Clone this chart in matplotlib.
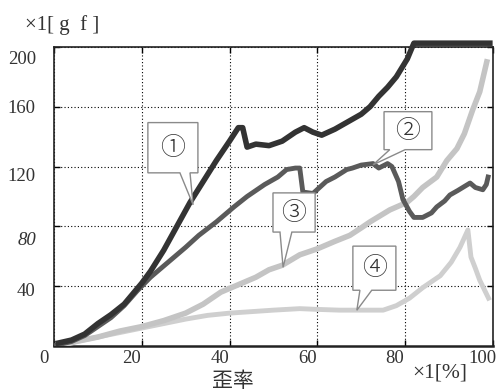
import numpy as np
import matplotlib
matplotlib.use("Agg")
import matplotlib.pyplot as plt
from matplotlib.patches import Polygon
from matplotlib.transforms import ScaledTranslation

# 歪率 [%] と荷重 [gf]
x1 = [1, 4, 7, 10, 13, 16, 18, 20, 22, 25, 28, 31, 34, 37, 40, 42, 43, 44, 46, 49, 52,
      55, 57, 59, 61, 64, 67, 70, 72, 74, 76, 78, 80.5, 82, 90, 99.3]
y1 = [2, 4, 8, 15, 21, 28, 35, 42, 50, 64, 80, 96, 110, 124, 137, 146, 146, 133, 135, 134, 137,
      143, 146, 143, 141, 145, 150, 155, 160, 167, 173, 180, 192, 202.5, 202.5, 202.5]

x2 = [0.5, 4, 7, 10, 13, 16, 19, 22, 26, 30, 33, 37, 41, 44, 48, 51, 53, 55, 56, 56.7, 59,
      62, 64, 66.7, 68, 70, 72.7, 74, 76, 77, 78.5, 79.5, 81, 82, 84, 86, 87.2, 89, 90.2,
      92, 94.8, 96, 97.7, 98.5, 98.9]
y2 = [0.5, 3, 7, 13, 19, 27, 37, 46, 56, 66, 74, 83, 93, 100, 108, 113, 118, 119, 119, 103, 102,
      110, 113, 118, 119, 121, 122, 119, 122, 120, 110, 98, 90, 86, 86, 89, 93, 97, 101,
      104, 109, 106, 104.5, 108, 113]

x3 = [1.4, 5, 10, 15, 20, 25, 30, 34, 38, 42, 46, 49, 52, 56, 60, 64, 67.4, 70, 72, 76.5,
      80.4, 82, 84, 87.2, 89.5, 91.8, 93.5, 95.4, 97, 98.6]
y3 = [0, 3, 6, 10, 13, 17, 22, 28, 36, 41, 46, 51, 54, 61, 65, 70, 74, 79, 83, 91,
      96, 100, 106, 113, 124, 132, 142, 158, 170, 190]

x4 = [0.5, 5, 10, 15, 20, 25, 30, 35, 40, 45, 50, 56, 60, 65, 70, 75, 78, 81, 84, 88,
      90.5, 92.5, 94.3, 95, 96, 97, 99]
y4 = [0, 3, 6, 9, 12, 15, 18, 20.5, 22, 23, 24, 25, 24.5, 24, 24, 24, 27, 32, 39, 47,
      56, 66, 77.6, 59.5, 52, 44, 32]

labels = ["①", "②", "③", "④"]
# 吹き出し: (左, 右, 下, 上), 付け根 (x0, x1), 先端 (x, y)
boxes = [(21.4, 32.8, 115.8, 149.4), (75.2, 86.1, 131.3, 156.7),
         (49.9, 59.5, 76.2, 102.4), (68.1, 77.9, 37.3, 66.8)]
bases = [(28.7, 31.0), (76.5, 80.0), (51.5, 54.2), (69.7, 72.4)]
tips = [(31.7, 94.4), (72.7, 121.2), (52.2, 52.7), (69.0, 23.9)]

xticks = [0, 20, 40, 60, 80, 100]
yticks = [40, 80, 120, 160, 200]

fig = plt.figure(figsize=(5.04, 3.91), dpi=100)
ax = fig.add_axes([0.107, 0.115, 0.871, 0.765])

ax.plot(x4, y4, color="#cfcfcf", lw=3.5, zorder=2)
ax.plot(x3, y3, color="#c4c4c4", lw=4, zorder=3)
ax.plot(x2, y2, color="#5a5a5a", lw=3.5, zorder=4)
ax.plot(x1, y1, color="#333333", lw=4, zorder=5, clip_on=False)

ax.set_xlim(0, 100)
ax.set_ylim(0, 200)
ax.set_xticks(xticks)
ax.set_yticks(yticks)
ax.grid(True, color="black", ls=(0, (1, 2)), lw=0.8)
ax.tick_params(direction="in", length=4, top=True, right=True, width=1)
ax.tick_params(axis="y", pad=13)
ax.tick_params(axis="x", pad=3)
for s in ax.spines.values():
    s.set_linewidth(1.2)
    s.set_color("#222222")
ax.spines["bottom"].set_linewidth(1.8)

serif = "Liberation Serif"
for lab in ax.get_xticklabels():
    lab.set_family(serif)
    lab.set_fontsize(13.5)
    lab.set_color("#333333")
    lab.set_transform(lab.get_transform() + ScaledTranslation(-0.10, 0, fig.dpi_scale_trans))
y_off = [-0.03, -0.12, -0.08, 0.0, -0.11]
for lab, dy in zip(ax.get_yticklabels(), y_off):
    lab.set_family(serif)
    lab.set_fontsize(13.5)
    lab.set_color("#333333")
    lab.set_transform(lab.get_transform() + ScaledTranslation(0, dy, fig.dpi_scale_trans))
ax.get_yticklabels()[1].set_style("italic")

for lab, (bx0, bx1, by0, by1), (k0, k1), (tx, ty) in zip(labels, boxes, bases, tips):
    verts = [(bx0, by1), (bx1, by1), (bx1, by0), (k1, by0), (tx, ty), (k0, by0), (bx0, by0)]
    ax.add_patch(Polygon(verts, closed=True, facecolor="white", edgecolor="#8a8a8a",
                         lw=1, zorder=6))
    ax.text((bx0 + bx1) / 2, (by0 + by1) / 2, lab, ha="center", va="center",
            fontsize=18, family=["Noto Sans CJK JP", "DejaVu Sans"],
            fontweight="light", color="#333333", zorder=7)

fig.text(25 / 504, 1 - 25 / 391, "×1[ g  f ]", family=serif, fontsize=15,
         color="#333333", va="center", ha="left")
fig.text(412 / 504, 1 - 373 / 391, "×1[%]", family=serif, fontsize=15.5,
         color="#333333", va="center", ha="left")
fig.text(233 / 504, 1 - 381 / 391, "歪率", family=["Noto Sans CJK JP", "DejaVu Sans"],
         fontsize=15, color="#333333", va="center", ha="center")

fig.savefig("out.png", dpi=100, facecolor="white")
